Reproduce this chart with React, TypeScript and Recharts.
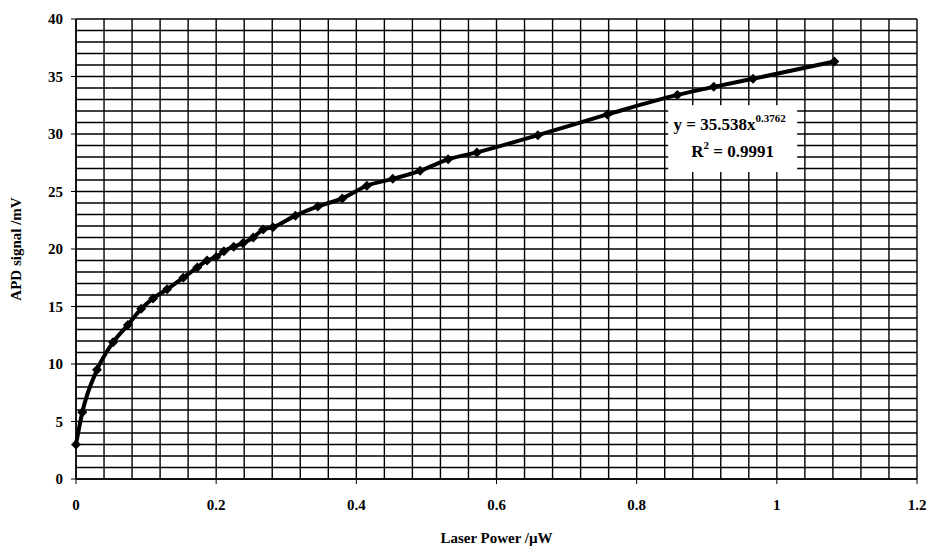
import { LineChart, Line, XAxis, YAxis, ReferenceLine, ReferenceArea } from "recharts";

const power = [
  0, 0.009, 0.03, 0.053, 0.074, 0.093, 0.11, 0.13, 0.153, 0.173, 0.187, 0.2, 0.211, 0.225, 0.238, 0.253,
  0.267, 0.281, 0.313, 0.345, 0.38, 0.415, 0.452, 0.491, 0.531, 0.572, 0.659, 0.758, 0.858, 0.91, 0.966, 1.082,
];
const signal = [
  3.0, 5.8, 9.5, 11.9, 13.4, 14.8, 15.7, 16.5, 17.5, 18.4, 19.0, 19.3, 19.8, 20.2, 20.5, 21.0,
  21.7, 21.9, 22.9, 23.7, 24.4, 25.5, 26.1, 26.8, 27.8, 28.4, 29.9, 31.7, 33.4, 34.1, 34.8, 36.3,
];
const xTicks = [0, 0.2, 0.4, 0.6, 0.8, 1, 1.2];
const yTicks = [0, 5, 10, 15, 20, 25, 30, 35, 40];
// minor grid: every 0.04 µW and every 1 mV
const gridX = Array.from({ length: 31 }, (_, i) => +(i * 0.04).toFixed(2));
const gridY = Array.from({ length: 41 }, (_, i) => i);

// white box behind the trendline equation (data units)
const boxX = [0.845, 1.029];
const boxY = [26.7, 32.5];

const data = power.map((p, i) => ({ p, s: signal[i] }));

const font = "'Liberation Serif', 'Times New Roman', serif";
const tickStyle = { fill: "#000", fontSize: 15, fontWeight: 700, fontFamily: font };
const gridStroke = { stroke: "#000", strokeWidth: 1.4 };

// grid segments, cut where they would cross the equation box
const hSegments = gridY.flatMap((v) =>
  v > boxY[0] && v < boxY[1]
    ? [[0, boxX[0]], [boxX[1], 1.2]].map(([a, b]) => [{ x: a, y: v }, { x: b, y: v }])
    : [[{ x: 0, y: v }, { x: 1.2, y: v }]]
);
const vSegments = gridX.flatMap((v) =>
  v > boxX[0] && v < boxX[1]
    ? [[0, boxY[0]], [boxY[1], 40]].map(([a, b]) => [{ x: v, y: a }, { x: v, y: b }])
    : [[{ x: v, y: 0 }, { x: v, y: 40 }]]
);

const Diamond = (props: any) => {
  const { cx, cy } = props;
  if (cx == null || cy == null) return null;
  const r = 5;
  return <path d={`M${cx},${cy - r}L${cx + r},${cy}L${cx},${cy + r}L${cx - r},${cy}Z`} fill="#000" />;
};

const FitLabel = (props: any) => {
  const { viewBox } = props;
  const cx = viewBox.x + viewBox.width / 2;
  return (
    <g style={{ fontFamily: font, fontWeight: 700 }} fill="#000">
      <text x={cx - 3} y={viewBox.y + 25} textAnchor="middle" fontSize={17}>
        y = 35.538x<tspan dy={-8} fontSize={11}>0.3762</tspan>
      </text>
      <text x={cx} y={viewBox.y + 52} textAnchor="middle" fontSize={17}>
        R<tspan dy={-8} fontSize={11}>2</tspan><tspan dy={8}> = 0.9991</tspan>
      </text>
    </g>
  );
};

export default function App() {
  return (
    <div style={{ position: "absolute", left: 0, top: 0, background: "#fff" }}>
      <LineChart width={932} height={555} data={data} margin={{ top: 19, right: 15, left: 10, bottom: 8 }}>
        <XAxis
          dataKey="p"
          type="number"
          domain={[0, 1.2]}
          ticks={xTicks}
          tickFormatter={(v) => String(v)}
          tick={tickStyle}
          tickSize={5}
          tickMargin={15}
          axisLine={{ stroke: "#000", strokeWidth: 1.4 }}
          tickLine={{ stroke: "#000" }}
          height={68}
          label={{ value: "Laser Power /\u00b5W", position: "insideBottom", offset: 4, style: { ...tickStyle, fontSize: 15 } }}
        />
        <YAxis
          type="number"
          domain={[0, 40]}
          ticks={yTicks}
          tick={tickStyle}
          tickSize={5}
          tickMargin={8}
          axisLine={{ stroke: "#000", strokeWidth: 1.4 }}
          tickLine={{ stroke: "#000" }}
          width={66}
          label={{ value: "APD signal /mV", angle: -90, position: "insideLeft", offset: 6, style: { ...tickStyle, fontSize: 15, textAnchor: "middle" } }}
        />
        {hSegments.map((seg, i) => (
          <ReferenceLine key={`h${i}`} segment={seg} {...gridStroke} />
        ))}
        {vSegments.map((seg, i) => (
          <ReferenceLine key={`v${i}`} segment={seg} {...gridStroke} />
        ))}
        <ReferenceArea
          x1={boxX[0]}
          x2={boxX[1]}
          y1={boxY[0]}
          y2={boxY[1]}
          fill="#fff"
          fillOpacity={0}
          stroke="none"
          label={<FitLabel />}
        />
        <Line
          dataKey="s"
          type="monotone"
          stroke="#000"
          strokeWidth={4}
          dot={<Diamond />}
          activeDot={false}
          isAnimationActive={false}
        />
      </LineChart>
    </div>
  );
}
